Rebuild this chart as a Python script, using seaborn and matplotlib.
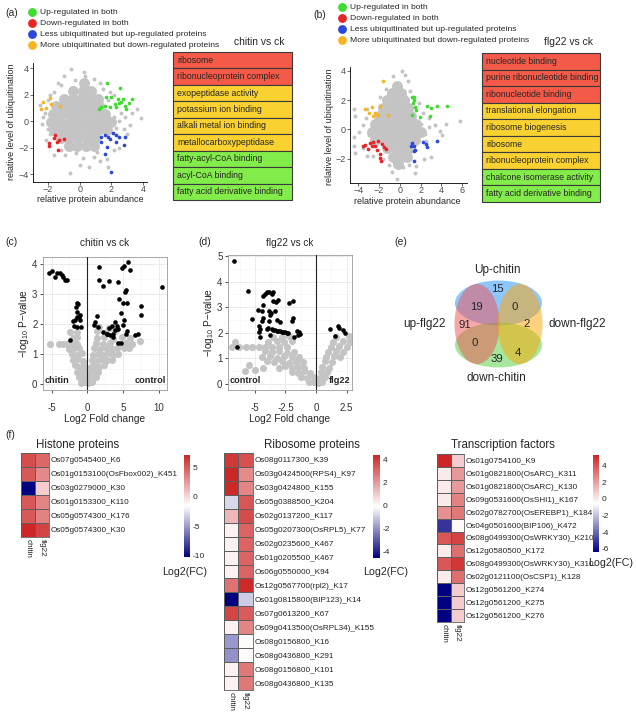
import matplotlib
matplotlib.use("Agg")
import matplotlib.pyplot as plt
import seaborn as sns
import pandas as pd
from matplotlib.patches import Ellipse
from matplotlib.colors import LinearSegmentedColormap
from matplotlib.ticker import MultipleLocator

# ===== DATA =====
# (a) chitin vs ck : relative protein abundance (x) vs relative ubiquitination (y)
a_grey_core = [(-0.4, 2.3), (0.2, 2.3), (0.7, 2.3), (0.25, 2.9),
               (-1.0, 1.7), (-0.45, 1.7), (0.1, 1.7), (0.65, 1.7), (1.15, 1.7),
               (-1.5, 1.1), (-0.95, 1.1), (-0.4, 1.1), (0.15, 1.1), (0.7, 1.1), (1.25, 1.1),
               (-1.7, 0.5), (-1.15, 0.5), (-0.6, 0.5), (-0.05, 0.5), (0.5, 0.5), (1.05, 0.5), (1.6, 0.5),
               (-1.8, -0.1), (-1.25, -0.1), (-0.7, -0.1), (-0.15, -0.1), (0.4, -0.1), (0.95, -0.1),
               (1.5, -0.1), (2.0, -0.1),
               (-1.6, -0.7), (-1.05, -0.7), (-0.5, -0.7), (0.05, -0.7), (0.6, -0.7), (1.15, -0.7), (1.7, -0.7),
               (-1.2, -1.3), (-0.65, -1.3), (-0.1, -1.3), (0.45, -1.3), (1.0, -1.3),
               (-0.7, -1.9), (-0.15, -1.9), (0.4, -1.9), (0.9, -1.9)]
a_grey_out = [(-0.56, 3.9), (0.3, 3.7), (0.35, 3.4), (-0.3, 3.1), (0.9, 3.2), (1.3, 2.9), (-1.2, 2.7),
              (-1.6, 2.2), (-2.3, 0.3), (-2.4, -0.2), (-2.0, -0.6), (-2.2, 0.6), (-1.9, -1.0), (-2.1, -1.4),
              (-1.2, -2.2), (-0.9, -2.6), (-0.6, -3.9), (0.2, -2.8), (0.6, -3.5), (0.9, -2.7), (1.3, -3.0),
              (1.7, -2.9), (2.2, -2.2), (2.5, -2.0), (2.8, -0.6), (3.2, -0.3), (3.9, 0.2), (3.3, 0.6),
              (2.9, 0.3), (2.5, 0.0), (2.3, -0.5), (2.6, 0.6), (1.9, 2.2), (1.5, 2.4), (2.2, 2.0),
              (-1.0, 3.4), (0.0, -3.3), (-1.6, -2.6), (-0.2, -2.4), (1.1, -2.3), (-2.5, 1.2), (3.0, -1.0),
              (3.6, 0.9), (1.8, -3.5), (-1.4, 2.9), (-2.0, 1.6), (-1.9, 2.0), (1.8, 1.6), (2.2, 0.3)]
a_up = [(1.71, 2.88), (2.56, 2.53), (1.65, 1.78), (2.0, 1.83), (2.42, 1.65), (2.73, 1.7), (3.31, 1.63),
        (2.63, 1.45), (1.38, 1.08), (1.9, 1.03), (2.31, 1.08), (2.88, 1.13), (1.21, 0.88), (2.21, 1.28),
        (2.94, 0.88), (1.58, 1.13), (2.52, 1.33), (3.15, 1.33)]
a_down = [(-1.54, -1.05), (-1.65, -1.3), (-1.33, -1.43), (-1.96, -1.68), (-1.92, -1.88),
          (-1.44, -1.55), (-1.38, -2.18), (-1.02, -1.38)]
a_less = [(1.38, -1.23), (1.58, -1.05), (1.79, -1.18), (2.1, -0.93), (2.31, -1.05), (2.52, -1.18),
          (1.75, -1.93), (2.31, -1.55), (1.63, -2.48), (2.0, -3.88), (2.9, -1.18), (2.83, -1.8),
          (1.33, -1.55), (1.9, -1.38)]
a_more = [(-2.33, 1.4), (-1.85, 1.75), (-2.42, 0.88), (-2.13, 0.95), (-1.79, 1.28), (-1.23, 1.13)]

# (b) flg22 vs ck
b_grey_core = [(-0.3, 3.0), (-0.8, 2.5), (0.1, 2.5), (-1.2, 2.0), (-0.4, 2.0), (0.4, 2.0),
               (-1.6, 1.45), (-0.8, 1.45), (0.0, 1.45), (0.8, 1.45),
               (-2.0, 0.9), (-1.2, 0.9), (-0.4, 0.9), (0.4, 0.9), (1.1, 0.9),
               (-2.4, 0.35), (-1.6, 0.35), (-0.8, 0.35), (0.0, 0.35), (0.8, 0.35), (1.6, 0.35),
               (-2.7, -0.2), (-1.9, -0.2), (-1.1, -0.2), (-0.3, -0.2), (0.5, -0.2), (1.3, -0.2), (2.0, -0.2),
               (-2.4, -0.75), (-1.6, -0.75), (-0.8, -0.75), (0.0, -0.75), (0.8, -0.75), (1.5, -0.75),
               (-1.2, -1.3), (-0.4, -1.3), (0.4, -1.3), (1.0, -1.3),
               (-0.7, -1.85), (0.1, -1.85), (0.7, -1.85), (-0.2, -2.35)]
b_grey_out = [(0.2, 4.0), (-0.65, 3.65), (-4.4, 1.4), (-4.3, 0.9), (-4.4, -0.5), (-4.4, -1.15),
              (-4.3, -1.6), (-3.9, -0.2), (-3.2, 1.4), (-3.6, 0.3), (-3.0, -0.4), (5.8, 0.6), (4.5, 0.4),
              (4.1, -0.4), (3.9, -0.1), (3.4, 0.3), (2.8, 0.2), (2.4, -0.3), (3.0, -1.9), (2.3, -2.0),
              (1.6, -2.5), (0.9, -2.4), (0.3, -2.6), (-0.3, -3.4), (-1.0, -2.4), (-1.6, -2.0),
              (-3.2, -1.8), (-2.6, -1.8), (1.0, 2.6), (0.8, 3.3), (-1.3, 2.8), (-1.9, 2.2), (-2.4, 0.5),
              (2.2, 1.1), (2.8, 0.8), (0.5, 3.7), (-0.8, -2.9), (1.5, -3.0), (2.0, 0.4), (-3.6, -1.3),
              (-3.3, 0.8), (2.5, -0.8), (1.8, 1.8)]
b_up = [(1.16, 2.23), (1.32, 2.0), (1.26, 1.78), (1.48, 1.56), (1.58, 1.33), (1.16, 0.99), (1.97, 0.88),
        (2.61, 1.6), (3.03, 1.44), (3.58, 1.6), (4.55, 1.6), (2.94, 0.93), (1.32, 2.23)]
b_down = [(-3.52, -1.15), (-3.35, -1.04), (-3.03, -1.33), (-2.87, -0.93), (-2.55, -0.88), (-2.06, -0.81),
          (-1.74, -0.97), (-1.52, -1.2), (-1.32, -1.33), (-1.9, -1.65), (-1.9, -1.94), (-1.84, -2.17),
          (-2.39, -1.15), (-2.71, -1.11), (-2.23, -1.42)]
b_less = [(1.16, -0.93), (1.39, -1.15), (1.48, -1.38), (1.32, -1.49), (2.23, -0.88), (2.55, -0.97),
          (2.61, -1.2), (3.58, -0.81), (1.39, -2.17), (1.1, -1.15)]
b_more = [(-1.58, 3.3), (-3.35, 1.38), (-2.71, 1.51), (-2.39, 1.15), (-1.9, 1.6), (-2.55, 0.93),
          (-2.06, 0.99), (-1.19, 0.99), (-2.94, 1.15)]

group_names = ["Up-regulated in both", "Down-regulated in both",
               "Less ubiquitinated but up-regulated proteins",
               "More ubiquitinated but down-regulated proteins"]

a_terms = ["ribosome", "ribonucleoprotein complex", "exopeptidase activity", "potassium ion binding",
           "alkali metal ion binding", "metallocarboxypeptidase", "fatty-acyl-CoA binding",
           "acyl-CoA binding", "fatty acid derivative binding"]
a_term_kind = ["red", "red", "yellow", "yellow", "yellow", "yellow", "green", "green", "green"]
b_terms = ["nucleotide binding", "purine ribonucleotide binding", "ribonucleotide binding",
           "translational elongation", "ribosome biogenesis", "ribosome", "ribonucleoprotein complex",
           "chalcone isomerase activity", "fatty acid derivative binding"]
b_term_kind = ["red", "red", "red", "yellow", "yellow", "yellow", "yellow", "green", "green"]

# (c) volcano chitin vs ck : log2 FC, -log10 p
c_sig = [(-5.33, 3.72), (-5.0, 3.79), (-4.53, 3.59), (-4.21, 3.72), (-3.83, 3.72), (-3.6, 3.64),
         (-3.36, 3.57), (-3.13, 3.48), (-2.9, 3.48),
         (-1.5, 2.72), (-1.36, 2.67), (-1.59, 2.58), (-1.4, 2.42), (-1.21, 2.25), (-1.03, 2.31),
         (-1.5, 2.25), (-1.73, 2.14), (-2.06, 2.12), (-1.87, 1.94), (-1.4, 1.92), (-1.03, 2.14),
         (-0.84, 1.92), (-2.43, 1.47),
         (1.68, 3.9), (1.68, 3.48), (2.24, 3.28), (3.08, 3.44), (1.31, 2.27), (1.07, 2.08), (0.98, 1.97),
         (1.54, 1.92), (2.24, 1.75), (2.71, 1.69), (3.18, 1.64), (3.08, 1.86), (4.35, 1.83), (4.35, 1.36),
         (4.67, 1.38), (4.35, 3.42), (4.81, 3.87), (5.14, 3.94), (5.65, 4.09), (5.98, 3.81), (5.42, 3.16),
         (5.28, 3.09), (4.49, 2.86), (5.05, 2.7), (5.61, 2.72), (4.72, 2.36), (3.88, 2.08), (4.21, 1.94),
         (5.14, 2.14), (5.51, 1.78), (4.95, 1.97), (3.88, 1.8), (3.41, 1.94), (6.68, 1.64), (7.15, 1.67),
         (7.52, 2.61), (7.52, 2.31), (10.42, 3.23), (3.64, 1.69), (2.8, 1.67), (3.55, 1.58), (5.42, 1.69)]
c_ns = [(-0.9, 0.05), (-0.4, 0.08), (0.1, 0.03), (0.6, 0.06),
        (-1.2, 0.22), (-0.6, 0.18), (0.0, 0.24), (0.6, 0.2), (1.2, 0.23),
        (-1.5, 0.41), (-0.9, 0.38), (-0.3, 0.43), (0.3, 0.37), (0.9, 0.42), (1.5, 0.39),
        (-1.7, 0.62), (-1.1, 0.58), (-0.5, 0.61), (0.5, 0.58), (1.1, 0.63), (1.7, 0.57), (2.3, 0.62),
        (-2.0, 0.79), (-1.3, 0.83), (-0.6, 0.78), (0.6, 0.82), (1.3, 0.78), (2.0, 0.83), (2.7, 0.79),
        (3.4, 0.82),
        (-2.2, 1.02), (-1.5, 0.98), (-0.8, 1.03), (0.8, 0.97), (1.5, 1.02), (2.2, 0.98), (2.9, 1.03),
        (3.6, 0.97), (4.3, 1.02),
        (-2.5, 1.18), (-1.8, 1.22), (-1.1, 1.19), (1.0, 1.21), (1.8, 1.18), (2.6, 1.22), (3.4, 1.18),
        (4.2, 1.22), (5.1, 1.19), (5.8, 1.21),
        (-5.2, 1.35), (-3.9, 1.35), (-3.4, 1.35), (-2.9, 1.35), (-2.4, 1.35), (-1.9, 1.35), (-1.4, 1.35),
        (1.2, 1.37), (2.2, 1.34), (3.2, 1.38), (4.4, 1.33), (5.4, 1.37), (6.3, 1.34), (7.4, 1.45),
        (-2.0, 1.55), (-1.4, 1.57), (1.3, 1.53), (2.4, 1.57), (3.6, 1.52), (4.8, 1.56), (6.0, 1.54),
        (-2.4, 1.75), (-1.5, 1.73), (1.4, 1.77), (2.6, 1.72), (3.9, 1.76), (1.6, 1.9), (3.0, 1.88)]

# (d) volcano flg22 vs ck
d_sig = [(-6.72, 4.82), (-6.45, 1.45), (-5.55, 3.64), (-5.22, 2.53), (-4.73, 2.89), (-4.45, 2.86),
         (-4.32, 3.08), (-4.37, 3.45), (-4.18, 3.51), (-4.04, 3.58), (-3.83, 3.58), (-3.63, 3.51),
         (-3.5, 3.58), (-3.55, 3.25), (-3.28, 3.21), (-3.09, 3.29), (-4.32, 2.59), (-4.45, 2.46),
         (-4.64, 2.26), (-4.59, 2.13), (-4.64, 2.03), (-4.54, 1.84), (-3.83, 2.86), (-3.72, 2.79),
         (-3.77, 2.68), (-3.36, 2.86), (-3.22, 2.5), (-2.95, 2.42), (-3.83, 2.46), (-4.04, 2.13),
         (-3.91, 2.2), (-3.77, 1.89),
         (-3.63, 2.13), (-3.5, 2.11), (-3.36, 2.1), (-3.22, 2.08), (-3.09, 2.07), (-2.95, 2.05),
         (-2.81, 2.04), (-2.68, 2.03), (-2.54, 2.01), (-2.41, 2.0), (-2.27, 1.97),
         (-2.19, 3.16), (-1.91, 3.25), (-1.91, 2.59), (-1.99, 2.46), (-1.53, 2.07), (-1.37, 2.03),
         (-1.31, 1.93), (-1.45, 1.89), (-1.8, 1.84),
         (1.15, 2.13), (1.8, 2.26), (1.9, 2.2), (2.25, 2.1), (2.4, 2.0), (1.55, 1.86)]
d_ns = [(-0.6, 0.05), (-0.2, 0.08), (0.2, 0.04), (0.5, 0.07),
        (-1.2, 0.27), (-0.7, 0.23), (-0.2, 0.28), (0.3, 0.22), (0.7, 0.26),
        (-2.0, 0.47), (-1.5, 0.43), (-1.0, 0.48), (-0.5, 0.42), (0.4, 0.46), (0.9, 0.44),
        (-3.0, 0.63), (-2.5, 0.68), (-2.0, 0.62), (-1.5, 0.67), (-1.0, 0.63), (0.5, 0.66), (1.1, 0.63),
        (-4.0, 0.87), (-3.4, 0.83), (-2.8, 0.88), (-2.2, 0.82), (-1.6, 0.86), (-1.1, 0.83), (0.7, 0.87),
        (1.3, 0.84),
        (-4.4, 1.03), (-3.8, 1.08), (-3.2, 1.02), (-2.6, 1.07), (-2.0, 1.03), (-1.4, 1.06), (0.8, 1.03),
        (1.5, 1.07), (2.0, 1.04),
        (-4.2, 1.27), (-3.6, 1.23), (-3.0, 1.28), (-2.4, 1.22), (-1.8, 1.26), (1.0, 1.23), (1.6, 1.27),
        (2.2, 1.24),
        (-6.9, 1.45), (-6.3, 1.45), (-5.7, 1.45), (-5.2, 1.45), (-4.7, 1.45), (-4.2, 1.45), (-3.6, 1.45),
        (-3.0, 1.45), (-2.4, 1.45), (1.2, 1.43), (1.9, 1.47), (2.5, 1.44),
        (-6.6, 1.65), (-3.9, 1.63), (-3.2, 1.67), (-2.6, 1.62), (-2.0, 1.66), (1.4, 1.63), (2.2, 1.67),
        (2.8, 1.64), (-3.5, 1.85), (-2.8, 1.83), (-2.2, 1.87), (1.6, 1.84), (2.7, 1.86),
        (-5.0, 0.55), (-4.3, 0.6), (-5.5, 0.75), (-5.8, 0.5)]

# (e) Venn counts
venn_sets = ["Up-chitin", "up-flg22", "down-flg22", "down-chitin"]
venn_regions = ["Up-chitin", "Up-chitin&up-flg22", "Up-chitin&down-flg22", "up-flg22",
                "down-flg22", "up-flg22&down-chitin", "down-flg22&down-chitin", "down-chitin"]
venn_counts = [15, 19, 0, 91, 2, 0, 4, 39]

# (f) heatmaps, Log2(FC)
hist_rows = ["Os07g0545400_K6", "Os01g0153100(OsFbox002)_K451", "Os03g0279000_K30",
             "Os01g0153300_K110", "Os05g0574300_K176", "Os05g0574300_K30"]
hist_chitin = [5.6, 5.2, -10.3, 5.2, 5.2, 7.2]
hist_flg22 = [4.6, 3.2, 0.4, 3.4, 3.5, 6.0]

ribo_rows = ["Os08g0117300_K39", "Os03g0424500(RPS4)_K97", "Os03g0424800_K155", "Os05g0388500_K204",
             "Os02g0137200_K117", "Os05g0207300(OsRPL5)_K77", "Os02g0235600_K467", "Os01g0205500_K467",
             "Os06g0550000_K94", "Os12g0567700(rpl2)_K17", "Os01g0815800(BIP123)_K14", "Os07g0613200_K67",
             "Os09g0413500(OsRPL34)_K155", "Os08g0156800_K16", "Os08g0436800_K291",
             "Os08g0156800_K101", "Os08g0436800_K135"]
ribo_chitin = [4.0, 4.4, 4.3, -0.8, 1.4, 0.2, 0.2, 0.2, 0.2, 2.8, -4.6, 3.7, 0.2, -1.9, -2.0, 0.2, 0.2]
ribo_flg22 = [3.5, 2.3, 2.4, 3.4, 3.6, 3.1, 3.1, 3.1, 3.1, 4.3, -1.0, 3.3, 2.4, 0.0, 0.0, 2.7, 2.7]

tf_rows = ["Os01g0754100_K9", "Os01g0821800(OsARC)_K311", "Os01g0821800(OsARC)_K130",
           "Os09g0531600(OsSHI1)_K167", "Os02g0782700(OsEREBP1)_K184", "Os04g0501600(BIP106)_K472",
           "Os08g0499300(OsWRKY30)_K210", "Os12g0580500_K172", "Os08g0499300(OsWRKY30)_K310",
           "Os02g0121100(OsCSP1)_K128", "Os12g0561200_K274", "Os12g0561200_K275", "Os12g0561200_K276"]
tf_chitin = [5.3, 0.0, 0.0, 0.0, 2.4, -5.2, 4.0, 0.0, 4.0, 0.0, -6.4, -6.4, -6.4]
tf_flg22 = [0.8, 2.2, 2.2, 2.8, 3.1, -0.4, 4.5, 3.3, 4.8, 3.3, 0.8, 0.8, 0.8]

# ===== STYLE =====
W, H = 636, 717
sns.set_style("white")
plt.rcParams['font.family'] = ['Liberation Sans', 'DejaVu Sans']
plt.rcParams['mathtext.fontset'] = 'custom'
plt.rcParams['mathtext.rm'] = 'Liberation Sans'
plt.rcParams['mathtext.it'] = 'Liberation Sans'

GREY = "#C4C4C4"
GROUP_COLORS = ["#3EDC2E", "#E92424", "#2B48DA", "#F8B522"]
TERM_COLORS = {"red": "#F55A48", "yellow": "#F9D232", "green": "#82EC4A"}
TICK_COL = "#4D4D4D"
HEAT_CMAP = LinearSegmentedColormap.from_list("nwf", ["#000080", "#FFFFFF", "#CD2626"])

fig = plt.figure(figsize=(W / 100, H / 100), dpi=100)


def px_axes(x0, y0, x1, y1):
    return fig.add_axes([x0 / W, 1 - y1 / H, (x1 - x0) / W, (y1 - y0) / H])


def ftext(x, y, s, **kw):
    fig.text(x / W, 1 - y / H, s, **kw)


def xy(pts):
    return [p[0] for p in pts], [p[1] for p in pts]


# ===== (a) / (b) UBIQUITINATION SCATTER =====
def ubi_panel(box, core, outer, groups, xlim, ylim, xticks, legend_xy):
    ax = px_axes(*box)
    x, y = xy(core)
    sns.scatterplot(x=x, y=y, color=GREY, s=62, linewidth=0, ax=ax)
    x, y = xy(outer)
    sns.scatterplot(x=x, y=y, color=GREY, s=8, linewidth=0, ax=ax)
    for pts, col, name in zip(groups, GROUP_COLORS, group_names):
        x, y = xy(pts)
        sns.scatterplot(x=x, y=y, color=col, s=7, linewidth=0, ax=ax, label=name)
    ax.set_xlim(*xlim)
    ax.set_ylim(*ylim)
    ax.set_xticks(xticks)
    ax.set_yticks([-4, -2, 0, 2, 4] if ylim[0] < -4 else [-2, 0, 2, 4])
    sns.despine(ax=ax)
    for s in ["left", "bottom"]:
        ax.spines[s].set_linewidth(0.6)
        ax.spines[s].set_color("black")
    ax.tick_params(labelsize=6.5, length=2, width=0.6, pad=1, colors=TICK_COL, bottom=True, left=True)
    ax.tick_params(axis="x", pad=0.3)
    ax.legend(loc="upper left", bbox_to_anchor=(legend_xy[0] / W, 1 - legend_xy[1] / H),
              bbox_transform=fig.transFigure, frameon=False, fontsize=6.1, markerscale=2.4,
              handlelength=0.8, handletextpad=0.45, labelspacing=0.38, borderpad=0, borderaxespad=0)
    return ax


def term_table(box, terms, kinds, title, title_xy):
    ax = px_axes(*box)
    tbl = ax.table(cellText=[[t] for t in terms], cellColours=[[TERM_COLORS[k]] for k in kinds],
                   cellLoc="left", bbox=[0, 0, 1, 1])
    tbl.auto_set_font_size(False)
    tbl.set_fontsize(6.3)
    for cell in tbl.get_celld().values():
        cell.set_edgecolor("#3A3A3A")
        cell.set_linewidth(0.8)
        cell.PAD = 0.035
    ax.axis("off")
    ftext(title_xy[0], title_xy[1], title, fontsize=7.4, ha="center", va="center")


ubi_panel((33, 63, 147, 182), a_grey_core, a_grey_out, [a_up, a_down, a_less, a_more],
          (-2.95, 4.26), (-4.6, 4.38), [-2, 0, 2, 4], (29, 8))
ftext(12, 122, "relative level of ubiquitination", fontsize=6.5, rotation=90, ha="center", va="center")
ftext(90, 200, "relative protein abundance", fontsize=6.5, ha="center", va="center")
ftext(5, 13, "(a)", fontsize=7.5, ha="left", va="center")
term_table((173, 52, 292, 200), a_terms, a_term_kind, "chitin vs ck", (259, 42))

ubi_panel((350, 67, 467, 183), b_grey_core, b_grey_out, [b_up, b_down, b_less, b_more],
          (-4.81, 6.48), (-3.66, 4.27), [-4, -2, 0, 2, 4, 6], (339, 3))
ftext(329, 127, "relative level of ubiquitination", fontsize=6.5, rotation=90, ha="center", va="center")
ftext(407, 202, "relative protein abundance", fontsize=6.5, ha="center", va="center")
ftext(313, 15, "(b)", fontsize=7.5, ha="left", va="center")
term_table((482, 53, 600, 202), b_terms, b_term_kind, "flg22 vs ck", (568, 42))


# ===== (c) / (d) VOLCANO =====
def volcano(box, ns, sig, xlim, ylim, xmaj, xlabels, left_lab, right_lab, title):
    ax = px_axes(*box)
    ax.set_facecolor("white")
    x, y = xy(ns)
    sns.scatterplot(x=x, y=y, color=GREY, s=26, linewidth=0, ax=ax, zorder=2)
    x, y = xy(sig)
    sns.scatterplot(x=x, y=y, color="black", s=11, linewidth=0, ax=ax, zorder=3)
    ax.axvline(0, color="#222222", lw=0.8, zorder=4)
    ax.set_xlim(*xlim)
    ax.set_ylim(*ylim)
    ax.set_xticks(xmaj)
    ax.set_xticklabels(xlabels)
    ax.yaxis.set_major_locator(MultipleLocator(1))
    ax.xaxis.set_minor_locator(MultipleLocator((xmaj[1] - xmaj[0]) / 2))
    ax.yaxis.set_minor_locator(MultipleLocator(0.5))
    ax.grid(which="major", color="#EBEBEB", lw=0.7, zorder=0)
    ax.grid(which="minor", color="#F4F4F4", lw=0.4, zorder=0)
    ax.set_axisbelow(True)
    for s in ax.spines.values():
        s.set_color("#9A9A9A")
        s.set_linewidth(0.6)
    ax.tick_params(which="major", labelsize=7, length=2.5, width=0.6, colors="#333333", pad=1.5,
                   bottom=True, left=True)
    ax.tick_params(axis="x", which="major", pad=7)
    ax.tick_params(which="minor", length=0)
    ax.text(xlim[0] + 0.01 * (xlim[1] - xlim[0]), 0.03, left_lab, fontsize=6.6, fontweight="bold",
            ha="left", va="baseline", zorder=5)
    ax.text(xlim[1] - 0.01 * (xlim[1] - xlim[0]), 0.03, right_lab, fontsize=6.6, fontweight="bold",
            ha="right", va="baseline", zorder=5)
    cx = (box[0] + box[2]) / 2
    ftext(cx, 243, title, fontsize=7.2, ha="center", va="center")
    ftext(cx, 419, "Log2 Fold change", fontsize=7.3, ha="center", va="center")
    ftext(box[0] - 19, (box[1] + box[3]) / 2, "\u2212log$_{10}$ P\u2212value", fontsize=7.3,
          rotation=90, ha="center", va="center")
    return ax


volcano((43, 257, 167, 390), c_ns, c_sig, (-6.21, 11.17), (-0.2, 4.25), [-5, 0, 5, 10],
        ["-5", "0", "5", "10"], "chitin", "control", "chitin vs ck")
ftext(5, 242, "(c)", fontsize=7.5, ha="left", va="center")
volcano((228, 255, 352, 390), d_ns, d_sig, (-7.2, 2.95), (-0.25, 5.05), [-5, -2.5, 0, 2.5],
        ["-5", "-2.5", "0", "2.5"], "control", "flg22", "flg22 vs ck")
ftext(198, 242, "(d)", fontsize=7.5, ha="left", va="center")

# ===== (e) VENN =====
ax = px_axes(400, 260, 600, 390)
ax.set_xlim(400, 600)
ax.set_ylim(390, 260)
ax.axis("off")
ellipses = [((498.5, 303), 87, 45, "#1E90FF"), ((498.5, 345), 87, 45, "#4FCF3C"),
            ((477, 324), 45, 80, "#F05050"), ((520, 324), 45, 80, "#FFA500")]
for c, w, h, col in ellipses:
    ax.add_patch(Ellipse(c, w, h, facecolor=col, edgecolor="none", alpha=0.5))
count_pos = {"Up-chitin": (497, 289), "Up-chitin&up-flg22": (476, 307), "Up-chitin&down-flg22": (515, 307),
             "up-flg22": (465, 325), "down-flg22": (527, 324), "up-flg22&down-chitin": (475, 343),
             "down-flg22&down-chitin": (518, 353), "down-chitin": (497, 359)}
for reg, n in zip(venn_regions, venn_counts):
    ax.text(*count_pos[reg], str(n), fontsize=8.2, ha="center", va="center")
set_pos = [(497, 270), (424, 324), (577, 324), (496, 378)]
for name, p in zip(venn_sets, set_pos):
    ax.text(*p, name, fontsize=8.5, ha="center", va="center")
ftext(394, 242, "(e)", fontsize=7.5, ha="left", va="center")


# ===== (f) HEATMAPS =====
def heat(box, cbox, rows, chitin, flg22, ticks, title, title_x, lab_xy):
    ax = px_axes(*box)
    cax = px_axes(*cbox)
    df = pd.DataFrame({"chitin": chitin, "flg22": flg22}, index=rows)
    sns.heatmap(df, cmap=HEAT_CMAP, vmin=df.values.min(), vmax=df.values.max(), ax=ax, cbar_ax=cax,
                linewidths=0.6, linecolor="#5E5E5E", xticklabels=True, yticklabels=True)
    ax.yaxis.tick_right()
    ax.set_yticks([i + 0.5 for i in range(len(rows))])
    ax.set_yticklabels(rows, rotation=0, fontsize=5.9, color="#222222")
    ax.set_xticks([0.5, 1.5])
    ax.set_xticklabels(["chitin", "flg22"], rotation=-90, fontsize=5.9, color="#222222")
    ax.tick_params(length=0, pad=1.5)
    for s in ax.spines.values():
        s.set_visible(True)
        s.set_color("#5E5E5E")
        s.set_linewidth(0.6)
    cbar = ax.collections[0].colorbar
    cbar.outline.set_visible(False)
    cbar.set_ticks(ticks)
    cbar.set_ticklabels([str(t) for t in ticks])
    cax.tick_params(labelsize=6, length=0, pad=2)
    ftext(title_x, 445, title, fontsize=8.3, ha="center", va="center")
    ftext(lab_xy[0], lab_xy[1], "Log2(FC)", fontsize=7.7, ha="center", va="center")


heat((21, 453, 49, 537), (184, 455, 190, 557), hist_rows, hist_chitin, hist_flg22, [5, 0, -5, -10],
     "Histone proteins", 78, (185, 572))
heat((224, 453, 253, 690), (373, 455, 380, 558), ribo_rows, ribo_chitin, ribo_flg22, [4, 2, 0, -2, -4],
     "Ribosome proteins", 312, (386, 572))
heat((437, 454, 464, 622), (593, 455, 599, 552), tf_rows, tf_chitin, tf_flg22, [4, 2, 0, -2, -4, -6],
     "Transcription factors", 503, (611, 563))
ftext(5, 435, "(f)", fontsize=7.5, ha="left", va="center")

fig.savefig("out.png", dpi=100)
